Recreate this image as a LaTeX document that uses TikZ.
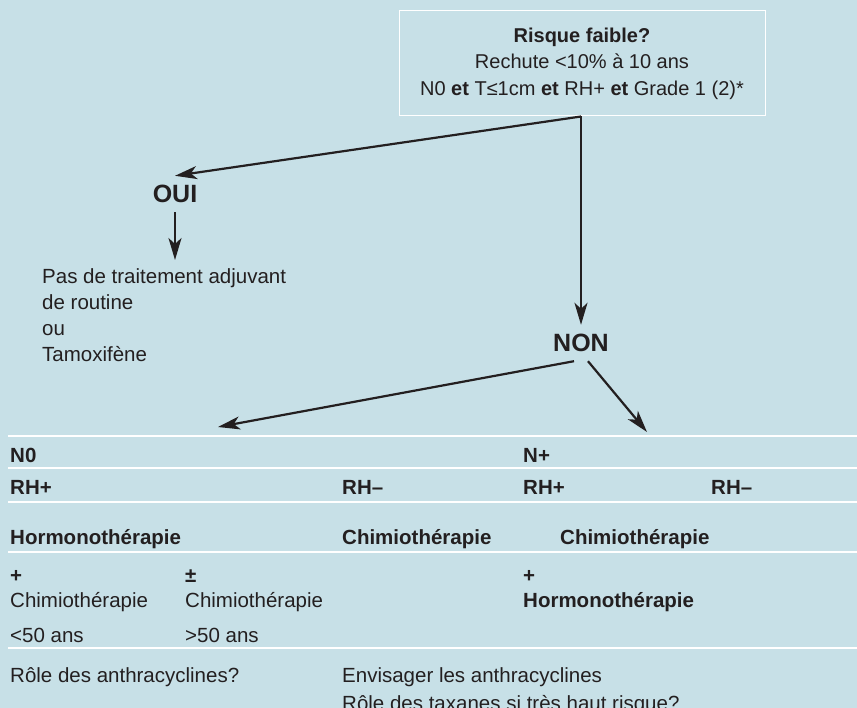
\documentclass[tikz,border=0pt]{standalone}
\usepackage{fontspec}
\setmainfont{Liberation Sans}
\usetikzlibrary{arrows.meta}
\definecolor{panel}{RGB}{199,224,231}
\definecolor{ink}{RGB}{35,31,32}
\newcommand{\txt}{\fontsize{20.5}{26.3}\selectfont}
\tikzset{
  arr/.style={draw=ink, line width=2.2pt, -{Stealth[length=22pt,width=13pt,inset=6pt]}},
  cell/.style={anchor=base west, inner sep=0pt, text=ink, font=\txt},
  bcell/.style={cell, font=\txt\bfseries},
  answer/.style={anchor=base, inner sep=0pt, text height=27pt, text depth=9pt, text=ink, font=\fontsize{25}{30}\selectfont\bfseries},
  rule/.style={draw=white, line width=1.4pt}
}

\begin{document}
\begin{tikzpicture}[x=1pt,y=-1pt]
\fill[panel] (0,0) rectangle (857,708);
\useasboundingbox (0,0) rectangle (857,708);
\node[draw=white, line width=1pt, minimum width=366pt, minimum height=105pt, align=center, text=ink, font=\fontsize{20}{26.5}\selectfont] (risk) at (582,63.5) {\textbf{Risque faible?}\\Rechute <10\% à 10 ans\\N0 \textbf{et} T≤1cm \textbf{et} RH+ \textbf{et} Grade 1 (2)*};
\node[answer] (oui) at (175,203) {OUI};
\node[answer] (non) at (581,352) {NON};
\node[cell, anchor=north west, inner ysep=8pt, align=left] (pas) at (42,260) {Pas de traitement adjuvant\\de routine\\ou\\Tamoxifène};
\coordinate (split) at (risk.south -| non.north);
\coordinate (toN0) at (218,427);
\coordinate (toNplus) at (647,432);
\draw[arr] (split) -- (oui.north);
\draw[arr] (split) -- (non.north);
\draw[arr] (oui.south) -- (oui.south |- pas.north);
\draw[arr] (non.-111) -- (toN0);
\draw[arr] (non.-69) -- (toNplus);
\foreach \y in {436,468,502,552,648}
  \draw[rule] (8,\y) -- (857,\y);
\node[bcell] (n0) at (10,462) {N0};
\node[bcell] (nplus) at (523,462) {N+};
\node[bcell] (rhpos) at (10,494) {RH+};
\node[bcell] (rhneg) at (342,494) {RH–};
\node[bcell] (rhposb) at (523,494) {RH+};
\node[bcell] (rhnegb) at (711,494) {RH–};
\node[bcell] (hormo) at (10,544) {Hormonothérapie};
\node[bcell] (chimio) at (342,544) {Chimiothérapie};
\node[bcell] (chimiob) at (560,544) {Chimiothérapie};
\node[bcell] (plus) at (10,582) {+};
\node[bcell] (plusmin) at (185,582) {±};
\node[bcell] (plusb) at (523,582) {+};
\node[cell] (chimyoung) at (10,607) {Chimiothérapie};
\node[cell] (chimold) at (185,607) {Chimiothérapie};
\node[bcell] (hormob) at (523,607) {Hormonothérapie};
\node[cell] (young) at (10,642) {<50 ans};
\node[cell] (old) at (185,642) {>50 ans};
\node[cell] (anthra) at (10,682) {Rôle des anthracyclines?};
\node[cell] (envis) at (342,682) {Envisager les anthracyclines};
\node[cell] (taxa) at (342,710) {Rôle des taxanes si très haut risque?};
\end{tikzpicture}
\end{document}
